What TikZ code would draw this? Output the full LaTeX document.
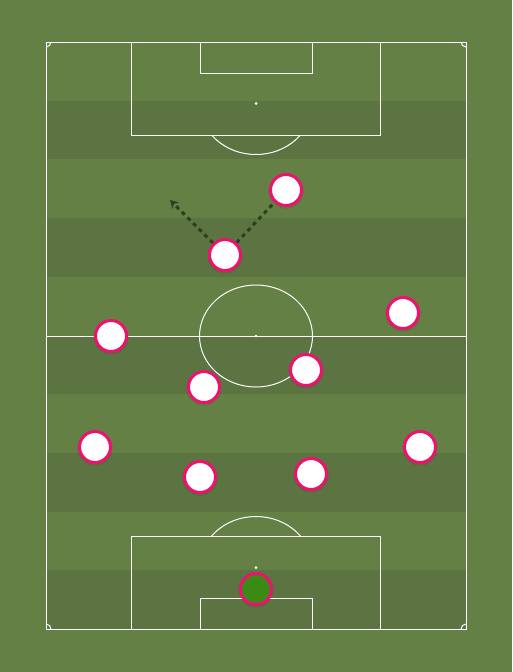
\documentclass[tikz,border=0pt]{standalone}
\usetikzlibrary{arrows.meta,shadows.blur}
\definecolor{grass}{RGB}{100,128,68}
\definecolor{stripe}{RGB}{91,116,66}
\definecolor{shirt}{RGB}{238,18,110}
\definecolor{keeper}{RGB}{58,138,22}
\definecolor{runline}{RGB}{45,62,33}
\tikzset{
  player/.style={circle,draw=shirt,fill=white,line width=3pt,minimum size=31pt,inner sep=0pt,
    blur shadow={shadow xshift=0pt,shadow yshift=-1pt,shadow blur steps=4,shadow opacity=35}},
  goalie/.style={player,fill=keeper},
  pitchline/.style={draw=white,line width=1pt},
  run/.style={draw=runline,line width=3pt,dash pattern=on 4pt off 4pt}
}
\newcommand\player[3]{%
  \node[player] (#1) at (#2,#3) {}
}
\begin{document}
\begin{tikzpicture}[x=1pt,y=-1pt]
        \useasboundingbox (0,0) rectangle (512,672);
        % The grass
        \fill[grass] (0,0) rectangle (512,672);
        \foreach \i in {1,3,5,7,9}
          \fill[stripe] (46,42+\i*58.7) rectangle (466,42+\i*58.7+58.7);

        % The lines
        \draw[pitchline] (46,42) rectangle (466,629);
        \draw[pitchline] (46,336) -- (466,336);
        \draw[pitchline] (256,336) ellipse [x radius=56.5,y radius=51];
        \draw[pitchline] (131,42) rectangle (380,135);
        \draw[pitchline] (200,42) rectangle (312,73);
        \draw[pitchline] (131,536) rectangle (380,629);
        \draw[pitchline] (200,598) rectangle (312,629);
        \begin{scope}
          \clip (46,135) rectangle (466,200);
          \draw[pitchline] (256,103.5) ellipse [x radius=56.5,y radius=51];
        \end{scope}
        \begin{scope}
          \clip (46,470) rectangle (466,536);
          \draw[pitchline] (256,567.5) ellipse [x radius=56.5,y radius=51];
        \end{scope}
        \begin{scope}
          \clip (46,42) rectangle (466,629);
          \foreach \cx/\cy in {46/42,466/42,46/629,466/629}
            \draw[pitchline] (\cx,\cy) circle [radius=5];
        \end{scope}
        \foreach \sy in {103.5,336,567.5}
          \fill[white] (256,\sy) circle [radius=1.5];

        % The players
        \player{p1}{286}{190};
        \player{p2}{225}{255};
        \player{p3}{403}{313};
        \player{p4}{111}{336};
        \player{p5}{306}{370};
        \player{p6}{204}{387};
        \player{p7}{95}{447};
        \player{p8}{420}{447};
        \player{p9}{200}{477};
        \player{p10}{311}{474};
        \node[goalie] (gk) at (256,589) {};

        % The runs
        \coordinate (runto) at (170,200);
        \draw[run,-{Stealth[length=8pt,width=9pt]}] (p2) -- (runto);
        \draw[run] (p2) -- (p1);
\end{tikzpicture}
\end{document}
